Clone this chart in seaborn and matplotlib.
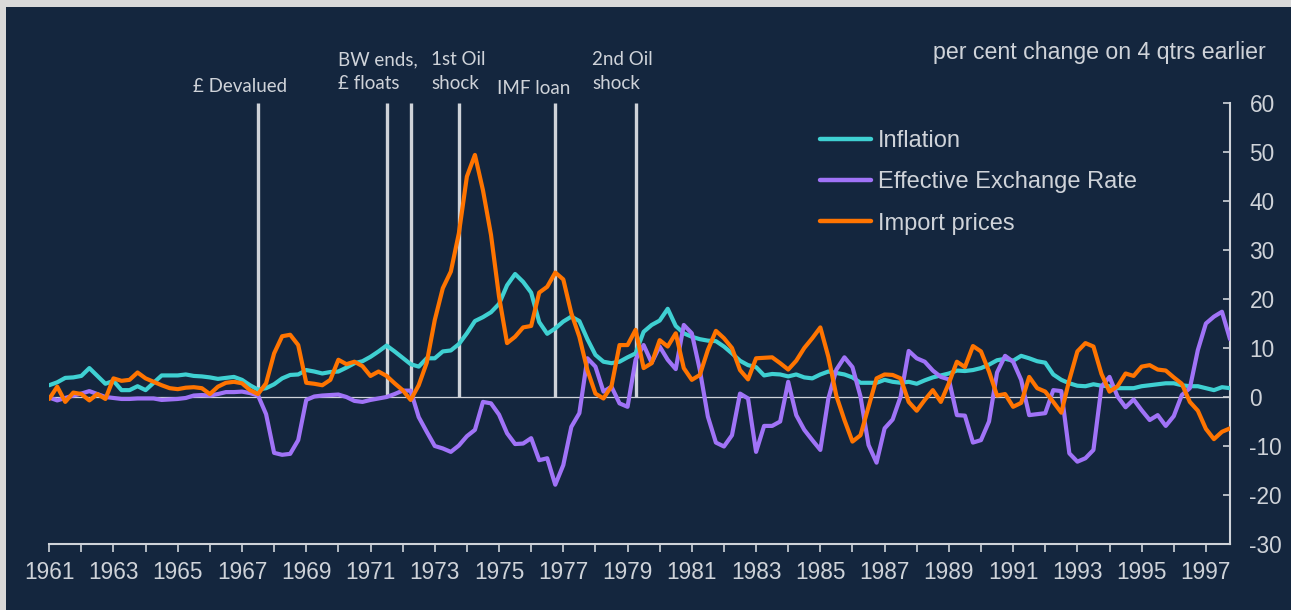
import numpy as np
import pandas as pd
import matplotlib
matplotlib.use("Agg")
import matplotlib.pyplot as plt
from matplotlib.patches import Rectangle
import seaborn as sns

# quarterly data, 1961Q1 - 1997Q4 (per cent change on 4 qtrs earlier)
start_year = 1961
inflation = [
    2.4, 3.0, 3.9, 4.0, 4.3, 5.9, 4.3, 2.7, 3.3, 1.4,
    1.4, 2.2, 1.4, 2.9, 4.4, 4.4, 4.4, 4.6, 4.3, 4.2,
    4.0, 3.7, 3.9, 4.1, 3.5, 2.4, 1.5, 1.8, 2.6, 3.8,
    4.5, 4.6, 5.5, 5.2, 4.8, 5.1, 5.2, 6.0, 6.9, 7.3,
    8.2, 9.3, 10.5, 9.3, 8.0, 6.7, 6.2, 7.9, 7.9, 9.3,
    9.5, 10.8, 13.0, 15.5, 16.3, 17.3, 19.0, 22.8, 25.1, 23.5,
    21.3, 15.3, 12.9, 14.0, 15.4, 16.4, 15.5, 11.8, 8.6, 7.2,
    6.9, 7.2, 8.1, 8.9, 13.3, 14.7, 15.6, 18.0, 14.5, 13.0,
    12.3, 11.8, 11.5, 11.4, 10.3, 8.9, 7.4, 6.5, 6.1, 4.4,
    4.7, 4.6, 4.2, 4.6, 4.0, 3.8, 4.6, 5.2, 4.9, 4.6,
    4.0, 2.9, 2.9, 2.9, 3.5, 3.1, 2.9, 3.1, 2.7, 3.4,
    4.0, 4.4, 4.8, 5.4, 5.3, 5.5, 5.9, 6.6, 7.5, 7.8,
    7.4, 8.4, 7.9, 7.3, 7.0, 4.6, 3.5, 2.8, 2.3, 2.2,
    2.6, 2.3, 2.2, 1.8, 1.8, 1.8, 2.2, 2.4, 2.6, 2.8,
    2.8, 2.4, 2.2, 2.2, 1.8, 1.4, 2.0, 1.8,
]
exchange_rate = [
    -0.1, -0.7, -0.2, 0.3, 0.7, 1.2, 0.6, 0.0, -0.2, -0.4,
    -0.4, -0.3, -0.3, -0.3, -0.6, -0.5, -0.4, -0.2, 0.3, 0.4,
    0.3, 0.6, 1.0, 1.0, 1.1, 0.8, 0.3, -3.5, -11.4, -11.8,
    -11.6, -8.8, -0.6, 0.1, 0.3, 0.4, 0.5, 0.0, -0.8, -1.0,
    -0.6, -0.3, 0.0, 0.6, 1.3, 1.3, -4.1, -7.1, -10.0, -10.5,
    -11.2, -9.9, -8.0, -6.7, -1.0, -1.3, -3.6, -7.4, -9.6, -9.5,
    -8.4, -12.9, -12.5, -17.9, -13.9, -6.1, -3.3, 7.9, 6.2, 1.1,
    2.1, -1.3, -2.0, 7.6, 10.6, 7.0, 10.3, 7.6, 5.7, 14.7,
    13.0, 5.5, -4.0, -9.3, -10.1, -7.8, 0.7, -0.3, -11.2, -5.9,
    -5.9, -5.0, 3.1, -3.7, -6.7, -8.8, -10.8, -0.3, 5.6, 8.1,
    6.1, 0.1, -9.8, -13.4, -6.4, -4.6, 0.1, 9.4, 7.9, 7.2,
    5.4, 4.1, 3.6, -3.7, -3.8, -9.3, -8.8, -5.0, 5.0, 8.4,
    7.2, 3.5, -3.7, -3.5, -3.3, 1.4, 1.2, -11.5, -13.2, -12.5,
    -10.8, 2.1, 4.1, 0.1, -2.1, -0.5, -2.7, -4.7, -3.7, -5.9,
    -3.9, 0.4, 1.8, 9.6, 15.0, 16.4, 17.4, 11.8,
]
import_prices = [
    -0.4, 2.1, -1.0, 0.9, 0.6, -0.7, 0.6, -0.4, 3.8, 3.3,
    3.5, 5.0, 3.8, 3.1, 2.4, 1.8, 1.6, 1.9, 2.0, 1.8,
    0.6, 2.1, 2.9, 3.1, 2.8, 1.4, 0.6, 2.8, 8.9, 12.4,
    12.7, 10.6, 2.9, 2.7, 2.4, 3.5, 7.6, 6.7, 7.2, 6.3,
    4.3, 5.2, 4.3, 2.8, 1.4, -0.6, 2.4, 7.0, 15.7, 22.2,
    25.6, 33.4, 45.0, 49.4, 42.2, 33.1, 20.5, 11.0, 12.3, 14.2,
    14.5, 21.3, 22.5, 25.4, 24.0, 17.1, 12.3, 5.5, 0.7, -0.3,
    2.2, 10.6, 10.6, 13.7, 5.9, 6.9, 11.6, 10.3, 13.0, 5.9,
    3.5, 4.5, 9.6, 13.5, 12.0, 10.0, 5.5, 3.6, 7.9, 8.0,
    8.1, 6.9, 5.6, 7.4, 10.0, 12.0, 14.2, 8.2, 0.2, -4.7,
    -9.1, -7.8, -2.0, 3.8, 4.6, 4.5, 3.8, -1.0, -2.8, -0.6,
    1.4, -1.0, 2.8, 7.2, 6.1, 10.4, 9.3, 5.2, 0.3, 0.6,
    -2.0, -1.2, 4.1, 1.8, 1.1, -1.0, -3.2, 3.5, 9.3, 11.0,
    10.3, 4.7, 1.1, 2.2, 4.8, 4.3, 6.2, 6.5, 5.6, 5.4,
    4.0, 2.7, -1.0, -2.8, -6.5, -8.6, -7.1, -6.4,
]
series_names = ["Inflation", "Effective Exchange Rate", "Import prices"]
series_colors = ["#3fd0d2", "#a073f7", "#ff7400"]

event_years = [1967.5, 1971.5, 1972.25, 1973.75, 1976.75, 1979.25]
event_labels = ["£ Devalued", "BW ends,\n£ floats", "1st Oil\nshock", "IMF loan", "2nd Oil\nshock"]

year_ticks = list(range(1961, 1998))
y_ticks = list(range(-30, 61, 10))

navy = "#14263e"
light = "#cfd3d9"

sns.set_theme(style="white", rc={
    "axes.facecolor": navy,
    "axes.edgecolor": light,
    "xtick.color": light,
    "ytick.color": light,
    "text.color": light,
})
plt.rcParams["font.family"] = ["Liberation Sans", "DejaVu Sans"]

quarters = start_year + np.arange(len(inflation)) / 4
df = pd.DataFrame({
    "quarter": np.tile(quarters, 3),
    "value": inflation + exchange_rate + import_prices,
    "series": np.repeat(series_names, len(quarters)),
})

W, H = 1291, 610
fig = plt.figure(figsize=(W / 100, H / 100), dpi=100, facecolor="#d9d9d9")
fig.patches.append(Rectangle((6 / W, 0), 1, 1 - 7 / H, transform=fig.transFigure,
                             facecolor=navy, edgecolor="none", zorder=-5))
ax = fig.add_axes([49.2 / W, (H - 544) / H, (1230 - 49.2) / W, (544 - 103) / H])
ax.set_zorder(2)

# event markers, behind the series
ax.vlines(event_years, 0, 60, colors=light, linewidth=2.4, zorder=1)
ax.axhline(0, color=light, linewidth=0.9, zorder=1)

sns.lineplot(data=df, x="quarter", y="value", hue="series", hue_order=series_names,
             palette=series_colors, linewidth=3, ax=ax, zorder=3)

ax.set_xlim(1961, 1997.75)
ax.set_ylim(-30, 60)
ax.set_xlabel("")
ax.set_ylabel("")

ax.set_xticks(year_ticks)
ax.set_xticklabels([str(y) if (y - 1961) % 2 == 0 else "" for y in year_ticks])
ax.yaxis.tick_right()
ax.set_yticks(y_ticks)
ax.set_yticklabels([str(v) for v in y_ticks])
ax.tick_params(axis="x", direction="out", length=6, width=1.2, pad=6, labelsize=16.3,
               colors=light, bottom=True)
ax.tick_params(axis="y", direction="in", length=5, width=1.2, pad=14, labelsize=16.3,
               colors=light, right=True, left=False)

for side in ["top", "left"]:
    ax.spines[side].set_visible(False)
for side in ["bottom", "right"]:
    ax.spines[side].set_color(light)
    ax.spines[side].set_linewidth(1.5)

handles, labels = ax.get_legend_handles_labels()
for h in handles:
    h.set_linewidth(3.2)
ax.legend(handles, labels, loc="upper left", bbox_to_anchor=(820 / W, 1 - 130 / H),
          bbox_transform=fig.transFigure, frameon=False, fontsize=17,
          handlelength=2.15, handletextpad=0.3, labelspacing=0.82,
          borderpad=0, borderaxespad=0, labelcolor=light)

fig.text(1266 / W, 1 - 52 / H, "per cent change on 4 qtrs earlier",
         ha="right", va="center", fontsize=16.7, color=light)

ann_font = ["Lato", "DejaVu Sans"]
fig.text(240 / W, 1 - 87 / H, event_labels[0], ha="center", va="center",
         fontsize=13.5, family=ann_font, color=light)
fig.text(338 / W, 1 - 71.5 / H, event_labels[1], ha="left", va="center",
         fontsize=13.5, family=ann_font, color=light, linespacing=1.45)
fig.text(431 / W, 1 - 71.5 / H, event_labels[2], ha="left", va="center",
         fontsize=13.5, family=ann_font, color=light, linespacing=1.45)
fig.text(534 / W, 1 - 88 / H, event_labels[3], ha="center", va="center",
         fontsize=13.5, family=ann_font, color=light)
fig.text(592 / W, 1 - 71.5 / H, event_labels[4], ha="left", va="center",
         fontsize=13.5, family=ann_font, color=light, linespacing=1.45)

fig.savefig("out.png", dpi=100, facecolor=fig.get_facecolor())
